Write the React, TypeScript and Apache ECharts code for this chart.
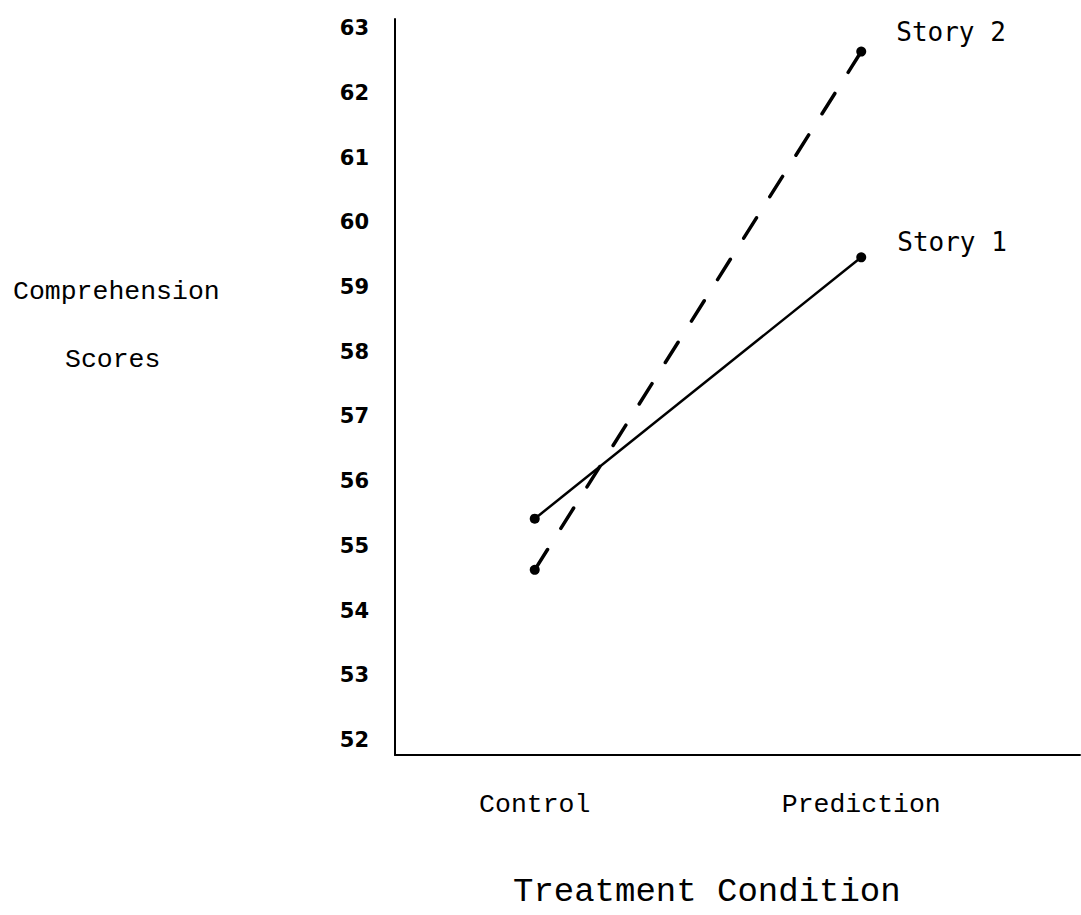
import React, { useEffect, useRef } from "react";
import * as echarts from "echarts";

const categories = ["Control", "Prediction"];
const categoryPositions = [0, 1];
const story1 = [55.42, 59.46];
const story2 = [54.63, 62.64];
const yTicks = [52, 53, 54, 55, 56, 57, 58, 59, 60, 61, 62, 63];
const seriesNames = ["Story 1", "Story 2"];

export default function App() {
  const ref = useRef<HTMLDivElement>(null);
  useEffect(() => {
    if (!ref.current) return;
    const chart = echarts.init(ref.current, null, { renderer: "svg" });
    const mono = "Liberation Mono";
    const sansMono = "DejaVu Sans Mono";
    chart.setOption({
      animation: false,
      backgroundColor: "#ffffff",
      grid: { left: 395, right: 1, top: 19, bottom: 160, containLabel: false },
      xAxis: {
        type: "value",
        min: -0.428,
        max: 1.67,
        splitLine: { show: false },
        axisLine: { show: true, onZero: false, lineStyle: { color: "#000", width: 2 } },
        axisTick: { show: false },
        axisLabel: {
          customValues: categoryPositions,
          formatter: (v: number) => categories[Math.round(v)] ?? "",
          margin: 36,
          color: "#000",
          fontFamily: mono,
          fontSize: 26.5,
        },
      },
      yAxis: {
        type: "value",
        min: 51.768,
        max: 63.143,
        splitLine: { show: false },
        axisLine: { show: true, onZero: false, lineStyle: { color: "#000", width: 2 } },
        axisTick: { show: false },
        axisLabel: {
          customValues: yTicks,
          margin: 26,
          color: "#000",
          fontFamily: "DejaVu Sans",
          fontWeight: "bold",
          fontSize: 21,
        },
      },
      series: [
        {
          name: seriesNames[0],
          type: "line",
          data: categoryPositions.map((x, i) => [x, story1[i]]),
          symbol: "circle",
          symbolSize: 10,
          itemStyle: { color: "#000" },
          lineStyle: { color: "#000", width: 2.5 },
          label: {
            show: true,
            position: "right",
            distance: 0,
            offset: [31, -15],
            color: "#000",
            fontFamily: sansMono,
            fontSize: 26,
            formatter: (p: any) => (p.dataIndex === categoryPositions.length - 1 ? seriesNames[0] : ""),
          },
        },
        {
          name: seriesNames[1],
          type: "line",
          data: categoryPositions.map((x, i) => [x, story2[i]]),
          symbol: "circle",
          symbolSize: 10,
          itemStyle: { color: "#000" },
          lineStyle: { color: "#000", width: 3.5, type: [24, 25], cap: "round" },
          label: {
            show: true,
            position: "right",
            distance: 0,
            offset: [30, -20],
            color: "#000",
            fontFamily: sansMono,
            fontSize: 26,
            formatter: (p: any) => (p.dataIndex === categoryPositions.length - 1 ? seriesNames[1] : ""),
          },
        },
      ],
      graphic: [
        {
          type: "text",
          left: 117 - 104,
          top: 293 - 15,
          style: { text: "Comprehension", fontFamily: mono, fontSize: 26.5, fill: "#000" },
        },
        {
          type: "text",
          left: 113 - 48,
          top: 361 - 15,
          style: { text: "Scores", fontFamily: mono, fontSize: 26.5, fill: "#000" },
        },
        {
          type: "text",
          left: 714 - 201,
          top: 893 - 18,
          style: { text: "Treatment Condition", fontFamily: mono, fontSize: 34, fill: "#000" },
        },
      ],
    });
    return () => chart.dispose();
  }, []);
  return (
    <div
      ref={ref}
      style={{ position: "fixed", left: 0, top: 0, width: 1081, height: 915, background: "#fff" }}
    />
  );
}
